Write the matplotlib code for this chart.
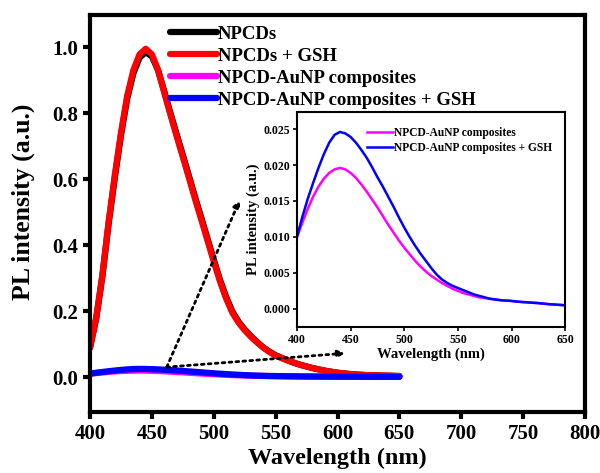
import matplotlib
matplotlib.use("Agg")
import matplotlib.pyplot as plt

plt.rcParams['font.family'] = ['Liberation Serif', 'DejaVu Serif']
plt.rcParams['font.weight'] = 'bold'

wavelength = list(range(400, 655, 5))

npcds_gsh = [0.09, 0.18, 0.31, 0.47, 0.611, 0.74, 0.852, 0.93, 0.978, 0.995,
             0.978, 0.93, 0.862, 0.795, 0.73, 0.667, 0.603, 0.538, 0.476, 0.413,
             0.35, 0.29, 0.238, 0.195, 0.165, 0.142, 0.122, 0.105, 0.089, 0.076,
             0.065, 0.057, 0.050, 0.043, 0.037, 0.032, 0.027, 0.023, 0.019, 0.016,
             0.013, 0.011, 0.009, 0.0075, 0.0065, 0.0055, 0.005, 0.0045, 0.004, 0.0035,
             0.003]

npcds = [0.088, 0.177, 0.305, 0.463, 0.603, 0.732, 0.843, 0.92, 0.968, 0.985,
         0.972, 0.93, 0.866, 0.80, 0.736, 0.673, 0.609, 0.544, 0.482, 0.419,
         0.356, 0.295, 0.243, 0.199, 0.168, 0.144, 0.124, 0.106, 0.090, 0.077,
         0.066, 0.058, 0.050, 0.043, 0.037, 0.032, 0.027, 0.023, 0.019, 0.016,
         0.013, 0.011, 0.009, 0.0075, 0.0065, 0.0055, 0.005, 0.0045, 0.004, 0.0035,
         0.003]

composites = [0.0100, 0.0120, 0.0139, 0.0156, 0.0170, 0.0181, 0.0189, 0.0194, 0.0196, 0.0194,
              0.0189, 0.0182, 0.0173, 0.0163, 0.0152, 0.0141, 0.0129, 0.0117, 0.0106, 0.0095,
              0.0085, 0.0076, 0.0067, 0.0059, 0.0052, 0.0046, 0.0041, 0.0036, 0.0032, 0.0028,
              0.0025, 0.0022, 0.0020, 0.0018, 0.0016, 0.0015, 0.0014, 0.0013, 0.0012, 0.00115,
              0.0011, 0.0010, 0.00095, 0.0009, 0.00085, 0.0008, 0.00072, 0.00065, 0.0006, 0.00055,
              0.0005]

composites_gsh = [0.0100, 0.0128, 0.0153, 0.0175, 0.0196, 0.0215, 0.0231, 0.0242, 0.0246, 0.0244,
                  0.0239, 0.0231, 0.0221, 0.0210, 0.0197, 0.0183, 0.0170, 0.0156, 0.0142, 0.0127,
                  0.0113, 0.0100, 0.0088, 0.0077, 0.0067, 0.0057, 0.0048, 0.0041, 0.0036, 0.0032,
                  0.0029, 0.0026, 0.0023, 0.0020, 0.0018, 0.0016, 0.0014, 0.0013, 0.0012, 0.00115,
                  0.0011, 0.00102, 0.00095, 0.0009, 0.00085, 0.0008, 0.00072, 0.00065, 0.0006, 0.00055,
                  0.0005]

labels = ["NPCDs", "NPCDs + GSH", "NPCD-AuNP composites", "NPCD-AuNP composites + GSH"]
colors = ["black", "#ff0000", "#ff00ff", "#0000ff"]

fig = plt.figure(figsize=(6, 4.73), dpi=100)
ax = fig.add_axes([0.15, 0.129, 0.825, 0.839])

series = [npcds, npcds_gsh, composites, composites_gsh]
for s, lab, c in zip(series, labels, colors):
    ax.plot(wavelength, s, color=c, lw=4.5, label=lab, solid_capstyle='round',
            solid_joinstyle='round')

ax.set_xlim(400, 800)
ax.set_ylim(-0.106, 1.097)
ax.set_xticks(range(400, 801, 50))
ax.set_yticks([0.0, 0.2, 0.4, 0.6, 0.8, 1.0])
ax.set_yticklabels(["0.0", "0.2", "0.4", "0.6", "0.8", "1.0"])
for sp in ax.spines.values():
    sp.set_linewidth(3)
ax.tick_params(axis='both', which='major', direction='out', width=3, length=5,
               labelsize=15, top=False, right=False)
for t in ax.get_xticklabels() + ax.get_yticklabels():
    t.set_fontweight('bold')
ax.set_xlabel("Wavelength (nm)", fontsize=17.5, fontweight='bold', labelpad=3)
ax.set_ylabel("PL intensity (a.u.)", fontsize=18.5, fontweight='bold')
ax.yaxis.set_label_coords(-0.111, 0.53)

leg = ax.legend(loc='upper left', bbox_to_anchor=(0.162, 0.974), frameon=False,
                prop={'size': 13.5, 'weight': 'bold'}, handlelength=2.5,
                handletextpad=0.06, labelspacing=0.26, borderaxespad=0, borderpad=0)
for h in leg.get_lines():
    h.set_linewidth(4.5)

# dotted arrows
arrow_start = (462, 0.03)
arrow_ends = [(521, 0.536), (606, 0.072)]
for end in arrow_ends:
    ax.annotate("", xy=end, xytext=arrow_start,
                arrowprops=dict(arrowstyle='-|>', linestyle=(0, (1, 1.5)), lw=2,
                                color='black', mutation_scale=10, shrinkA=0, shrinkB=0))

# inset
ins = fig.add_axes([0.495, 0.309, 0.447, 0.454])
ins.plot(wavelength, composites, color="#ff00ff", lw=1.8, label=labels[2])
ins.plot(wavelength, composites_gsh, color="#0000ff", lw=1.8, label=labels[3])
ins.set_xlim(400, 650)
ins.set_ylim(-0.0025, 0.02736)
ins.set_xticks(range(400, 651, 50))
ins.set_yticks([0.0, 0.005, 0.010, 0.015, 0.020, 0.025])
ins.set_yticklabels(["0.000", "0.005", "0.010", "0.015", "0.020", "0.025"])
for sp in ins.spines.values():
    sp.set_linewidth(1.5)
ins.tick_params(axis='both', direction='out', width=1.2, length=3, labelsize=8.5,
                top=False, right=False, pad=2)
for t in ins.get_xticklabels() + ins.get_yticklabels():
    t.set_fontweight('bold')
ins.set_xlabel("Wavelength (nm)", fontsize=10.5, fontweight='bold', labelpad=1)
ins.set_ylabel("PL intensity (a.u.)", fontsize=10.5, fontweight='bold', labelpad=2)
ileg = ins.legend(loc='upper left', bbox_to_anchor=(0.26, 0.93), frameon=False,
                  prop={'size': 8.3, 'weight': 'bold'}, handlelength=2.3,
                  handletextpad=0.1, labelspacing=0.24, borderaxespad=0, borderpad=0)

fig.savefig("out.png", dpi=100)
